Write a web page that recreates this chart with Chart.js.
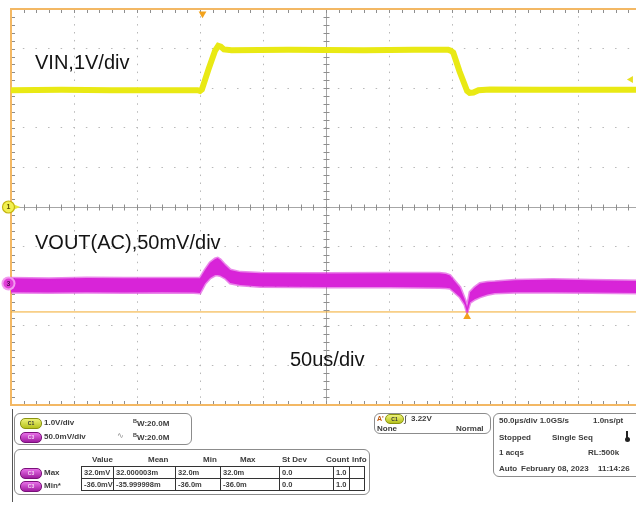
<!DOCTYPE html>
<html>
<head>
<meta charset="utf-8">
<script src="https://cdn.jsdelivr.net/npm/chart.js@4.4.0/dist/chart.umd.min.js"></script>
<style>
html,body{margin:0;padding:0;background:#fff;}
body{width:636px;height:506px;overflow:hidden;position:relative;font-family:"Liberation Sans",Arial,sans-serif;}
#wrap{position:absolute;left:0;top:0;width:652px;height:414px;}
.lbl{position:absolute;font-size:20px;color:#141414;white-space:nowrap;line-height:1;}
.box{position:absolute;border:1.5px solid #8c8c8c;border-radius:6px;box-sizing:border-box;background:#fff;}
.t{position:absolute;font-size:8px;font-weight:bold;color:#3c3c3c;white-space:nowrap;line-height:1;}
.pill{position:absolute;width:20px;height:9px;border-radius:5px;font-size:5px;font-weight:bold;line-height:9px;text-align:center;color:#333;}
.p1{background:linear-gradient(#eef27a,#b6c21c);border:0.5px solid #8a9410;}
.p3{background:linear-gradient(#e870e8,#a01ca0);border:0.5px solid #7a107a;color:#f4d4f4;}
.cell{position:absolute;border:1px solid #333;box-sizing:border-box;height:13px;font-size:7.5px;font-weight:bold;color:#3c3c3c;line-height:11px;padding-left:2px;white-space:nowrap;overflow:hidden;}
.sub{font-size:5.5px;vertical-align:3px;}
#frameline{position:absolute;left:12px;top:409px;width:1px;height:93px;background:#555;}
#thermo{position:absolute;left:626px;top:431px;width:2px;height:8px;background:#222;}
#thermo:after{content:"";position:absolute;left:-1.5px;top:6px;width:5px;height:5px;border-radius:50%;background:#222;}
</style>
</head>
<body>
<div id="wrap"><canvas id="c" width="652" height="414"></canvas></div>

<div class="lbl" style="left:35px;top:51.6px;">VIN,1V/div</div>
<div class="lbl" style="left:35px;top:231.6px;">VOUT(AC),50mV/div</div>
<div class="lbl" style="left:290px;top:349px;">50us/div</div>

<div id="frameline"></div>

<!-- channel settings -->
<div class="box" style="left:14px;top:413px;width:178px;height:32px;"></div>
<div class="pill p1" style="left:20px;top:418px;">C1</div>
<div class="t" style="left:44px;top:419px;">1.0V/div</div>
<div class="t" style="left:133px;top:419px;"><span class="sub">B</span>W:20.0M</div>
<div class="pill p3" style="left:20px;top:432px;">C3</div>
<div class="t" style="left:44px;top:433px;">50.0mV/div</div>
<div class="t" style="left:117px;top:432px;color:#888;font-weight:normal;">∿</div>
<div class="t" style="left:133px;top:433px;"><span class="sub">B</span>W:20.0M</div>

<!-- measurement table -->
<div class="box" style="left:14px;top:449px;width:356px;height:46px;"></div>
<div id="hdr"></div>
<div class="pill p3" style="left:20px;top:468px;">C3</div>
<div class="t" style="left:44px;top:469px;">Max</div>
<div class="pill p3" style="left:20px;top:481px;">C3</div>
<div class="t" style="left:44px;top:482px;">Min*</div>
<div id="tbl"></div>

<!-- trigger -->
<div class="box" style="left:374px;top:413px;width:117px;height:21px;"></div>
<div class="t" style="left:377px;top:415px;color:#c05a10;font-size:7px;">A'</div>
<div class="pill p1" style="left:385px;top:414px;width:17px;height:8px;line-height:8px;">C1</div>
<div class="t" style="left:404px;top:415px;font-weight:normal;font-size:9px;">∫</div>
<div class="t" style="left:411px;top:415px;">3.22V</div>
<div class="t" style="left:377px;top:425px;">None</div>
<div class="t" style="left:456px;top:425px;">Normal</div>

<!-- timebase -->
<div class="box" style="left:493px;top:413px;width:170px;height:64px;"></div>
<div class="t" style="left:499px;top:417px;">50.0µs/div 1.0GS/s</div>
<div class="t" style="left:593px;top:417px;">1.0ns/pt</div>
<div class="t" style="left:499px;top:434px;">Stopped</div>
<div class="t" style="left:552px;top:434px;">Single Seq</div>
<div id="thermo"></div>
<div class="t" style="left:499px;top:449px;">1 acqs</div>
<div class="t" style="left:588px;top:449px;">RL:500k</div>
<div class="t" style="left:499px;top:465px;">Auto</div>
<div class="t" style="left:521px;top:465px;">February 08, 2023</div>
<div class="t" style="left:598px;top:465px;">11:14:26</div>

<script>
// ---- C1: VIN (V) ----
const vinTime  = [0, 40, 80, 120, 148, 150, 151.5, 157, 162, 164.5, 166.5, 169, 175, 220, 280, 320, 347, 349, 351, 356, 362, 364, 367, 371, 380, 420, 460, 500];
const vinVolts = [2.95, 2.96, 2.95, 2.95, 2.95, 2.93, 2.97, 3.50, 3.95, 4.07, 4.05, 3.98, 3.96, 3.97, 3.96, 3.97, 3.97, 3.95, 3.90, 3.42, 2.93, 2.88, 2.89, 2.95, 2.97, 2.96, 2.96, 2.96];

// ---- C3: VOUT (AC coupled, mV), noise envelope ----
const voutTime  = [0, 30, 60, 90, 120, 145, 150, 154, 158, 162, 164, 166, 170, 174, 182, 198, 250, 300, 340, 345, 348.4, 352, 356.3, 360.3, 362, 364.3, 368, 372.2, 378, 384, 400, 430, 460, 500];
const voutUpper = [6.5, 6, 7, 6.5, 6.5, 6.5, 6.5, 17, 26, 31, 32, 30, 23, 17, 14, 13, 12.5, 13, 13, 12, 10, 3, -5, -21, -31, -11, -5, 0, 1.5, 2, 4, 5, 4, 3];
const voutLower = [-11, -11.5, -11, -11.5, -11, -11.5, -12, 0, 7, 10.5, 10.5, 10, 6.5, 0.5, -2, -4, -4.5, -4.5, -5, -5.5, -6, -11, -17, -27, -36, -24, -20, -17, -14, -12, -11, -11, -11.5, -12];

// ---- measurement results ----
const measHeaders = ['Value', 'Mean', 'Min', 'Max', 'St Dev', 'Count', 'Info'];
const measMax = ['32.0mV', '32.000003m', '32.0m', '32.0m', '0.0', '1.0', ''];
const measMin = ['-36.0mV', '-35.999998m', '-36.0m', '-36.0m', '0.0', '1.0', ''];
const minLevelMv = -36.0;     // Min* result
const triggerLevelV = 3.22;   // A trigger level on C1
const triggerTimeUs = 152;    // trigger position
const minTimeUs = 362;        // location of the minimum

// ---- graticule ----
const timePerDivUs = 50;
const divisions = 10;
const c3OffsetDiv = -1.93;    // C3 position
const c3MvPerDiv = 50;

const zip = (xs, ys) => xs.map((x, i) => ({x, y: ys[i]}));

const graticule = {
  id: 'graticule',
  beforeDatasetsDraw(chart) {
    const {ctx, chartArea: a, scales: {x, y}} = chart;
    const ln = (x1, y1, x2, y2) => { ctx.beginPath(); ctx.moveTo(x1, y1); ctx.lineTo(x2, y2); ctx.stroke(); };
    ctx.save();
    const cx = Math.round(x.getPixelForValue(timePerDivUs * divisions / 2)) + 0.5;
    const cy = Math.round(y.getPixelForValue(0)) + 0.5;
    ctx.strokeStyle = '#a6a6a6'; ctx.lineWidth = 1;
    ln(a.left, cy, a.right, cy); ln(cx, a.top, cx, a.bottom);
    ctx.strokeStyle = '#8e8e8e';
    for (let i = 0; i <= divisions * 5; i++) {
      const px = Math.round(x.getPixelForValue(i * timePerDivUs / 5)) + 0.5;
      ln(px, a.top, px, a.top + 4);
      ln(px, a.bottom - 4, px, a.bottom);
      ln(px, cy - 3, px, cy + 3);
      const py = Math.round(y.getPixelForValue(-5 + i / 5)) + 0.5;
      ln(a.left, py, a.left + 4, py);
      ln(cx - 3, py, cx + 3, py);
    }
    ctx.strokeStyle = '#f3b864'; ctx.lineWidth = 2;
    ln(a.left, a.top, a.right, a.top);
    ln(a.left, a.top - 1, a.left, a.bottom + 1);
    ln(a.left, a.bottom, a.right, a.bottom);
    ctx.restore();
  },
  afterDatasetsDraw(chart) {
    const {ctx, chartArea: a, scales} = chart;
    ctx.save();
    // C1 ground marker
    const y1 = scales.yV.getPixelForValue(0);
    const x0 = a.left - 2.5;
    ctx.fillStyle = '#e8e838';
    ctx.beginPath(); ctx.moveTo(x0 + 4, y1 - 3); ctx.lineTo(x0 + 12, y1); ctx.lineTo(x0 + 4, y1 + 3); ctx.fill();
    ctx.beginPath(); ctx.arc(x0, y1, 6, 0, Math.PI * 2);
    ctx.fillStyle = '#f2f050'; ctx.fill();
    ctx.strokeStyle = '#c4b410'; ctx.lineWidth = 1.2; ctx.stroke();
    ctx.fillStyle = '#5a5000'; ctx.font = 'bold 7px "Liberation Sans", Arial';
    ctx.textAlign = 'center'; ctx.textBaseline = 'middle';
    ctx.fillText('1', x0, y1 + 0.5);
    // C3 ground marker
    const y3 = scales.ymV.getPixelForValue(0);
    ctx.beginPath(); ctx.arc(x0, y3, 7, 0, Math.PI * 2);
    ctx.fillStyle = '#f39af0'; ctx.fill();
    ctx.beginPath(); ctx.arc(x0, y3, 5, 0, Math.PI * 2);
    ctx.fillStyle = '#e03cd8'; ctx.fill();
    ctx.fillStyle = '#5a0a5a';
    ctx.fillText('3', x0, y3 + 0.5);
    ctx.restore();
  }
};

const magenta = '#d824d8';
new Chart(document.getElementById('c'), {
  type: 'line',
  data: {
    datasets: [
      {
        data: [{x: 0, y: minLevelMv}, {x: timePerDivUs * divisions, y: minLevelMv}],
        yAxisID: 'ymV', borderColor: '#f2aa2c', borderWidth: 1, pointRadius: 0, fill: false, order: 5
      },
      {
        data: zip(voutTime, voutLower),
        yAxisID: 'ymV', borderColor: 'rgba(216,36,216,0.55)', borderWidth: 3, pointRadius: 0, fill: false, tension: 0, order: 4
      },
      {
        data: zip(voutTime, voutUpper),
        yAxisID: 'ymV', borderColor: 'rgba(216,36,216,0.55)', borderWidth: 3, pointRadius: 0, fill: '-1', backgroundColor: magenta, tension: 0, order: 3
      },
      {
        data: zip(vinTime, vinVolts),
        yAxisID: 'yV', borderColor: '#e9e914', borderWidth: 6, pointRadius: 0, fill: false, tension: 0, order: 2
      },
      {
        type: 'scatter',
        data: [{x: minTimeUs, y: minLevelMv - 6}],
        yAxisID: 'ymV', pointStyle: 'triangle', pointRadius: 4.5, backgroundColor: '#f2a21c', borderWidth: 0, order: 1
      },
      {
        type: 'scatter',
        data: [{x: triggerTimeUs, y: 4.88}],
        yAxisID: 'y', pointStyle: 'triangle', rotation: 180, pointRadius: 4.5, backgroundColor: '#f2a21c', borderWidth: 0, order: 1
      },
      {
        type: 'scatter',
        data: [{x: 492, y: triggerLevelV}],
        yAxisID: 'yV', pointStyle: 'triangle', rotation: -90, pointRadius: 4, backgroundColor: '#e8e020', borderWidth: 0, order: 1
      }
    ]
  },
  options: {
    responsive: false,
    animation: false,
    devicePixelRatio: 1,
    layout: {padding: {left: 11, right: 11, top: 9, bottom: 9}},
    plugins: {legend: {display: false}, tooltip: {enabled: false}},
    scales: {
      x: {
        type: 'linear', min: 0, max: timePerDivUs * divisions,
        ticks: {display: false, stepSize: timePerDivUs},
        grid: {color: '#b8b8b8', lineWidth: 1, drawTicks: false},
        border: {display: false, dash: [1.5, 6.42], dashOffset: 0.75}
      },
      y: {
        min: -divisions / 2, max: divisions / 2,
        ticks: {display: false, stepSize: 1},
        grid: {color: '#b8b8b8', lineWidth: 1, drawTicks: false},
        border: {display: false, dash: [1.5, 11.1], dashOffset: 0.75}
      },
      yV: {display: false, min: -divisions / 2, max: divisions / 2},
      ymV: {
        display: false,
        min: (-divisions / 2 - c3OffsetDiv) * c3MvPerDiv,
        max: (divisions / 2 - c3OffsetDiv) * c3MvPerDiv
      }
    }
  },
  plugins: [graticule]
});

// measurement table: column edges and header anchors
const tableColumns = [81, 113, 175, 220, 279, 333, 349, 364];
const headerLeft = [92, 148, 203, 240, 282, 326, 352];
const hdr = document.getElementById('hdr');
measHeaders.forEach((h, i) => {
  const d = document.createElement('div');
  d.className = 't';
  d.style.left = headerLeft[i] + 'px';
  d.style.top = '456px';
  d.textContent = h;
  hdr.appendChild(d);
});
const tbl = document.getElementById('tbl');
[measMax, measMin].forEach((row, r) => {
  row.forEach((txt, c) => {
    const d = document.createElement('div');
    d.className = 'cell';
    d.style.left = tableColumns[c] + 'px';
    d.style.top = (466 + r * 12) + 'px';
    d.style.width = (tableColumns[c + 1] - tableColumns[c] + 1) + 'px';
    d.textContent = txt;
    tbl.appendChild(d);
  });
});
</script>
</body>
</html>
